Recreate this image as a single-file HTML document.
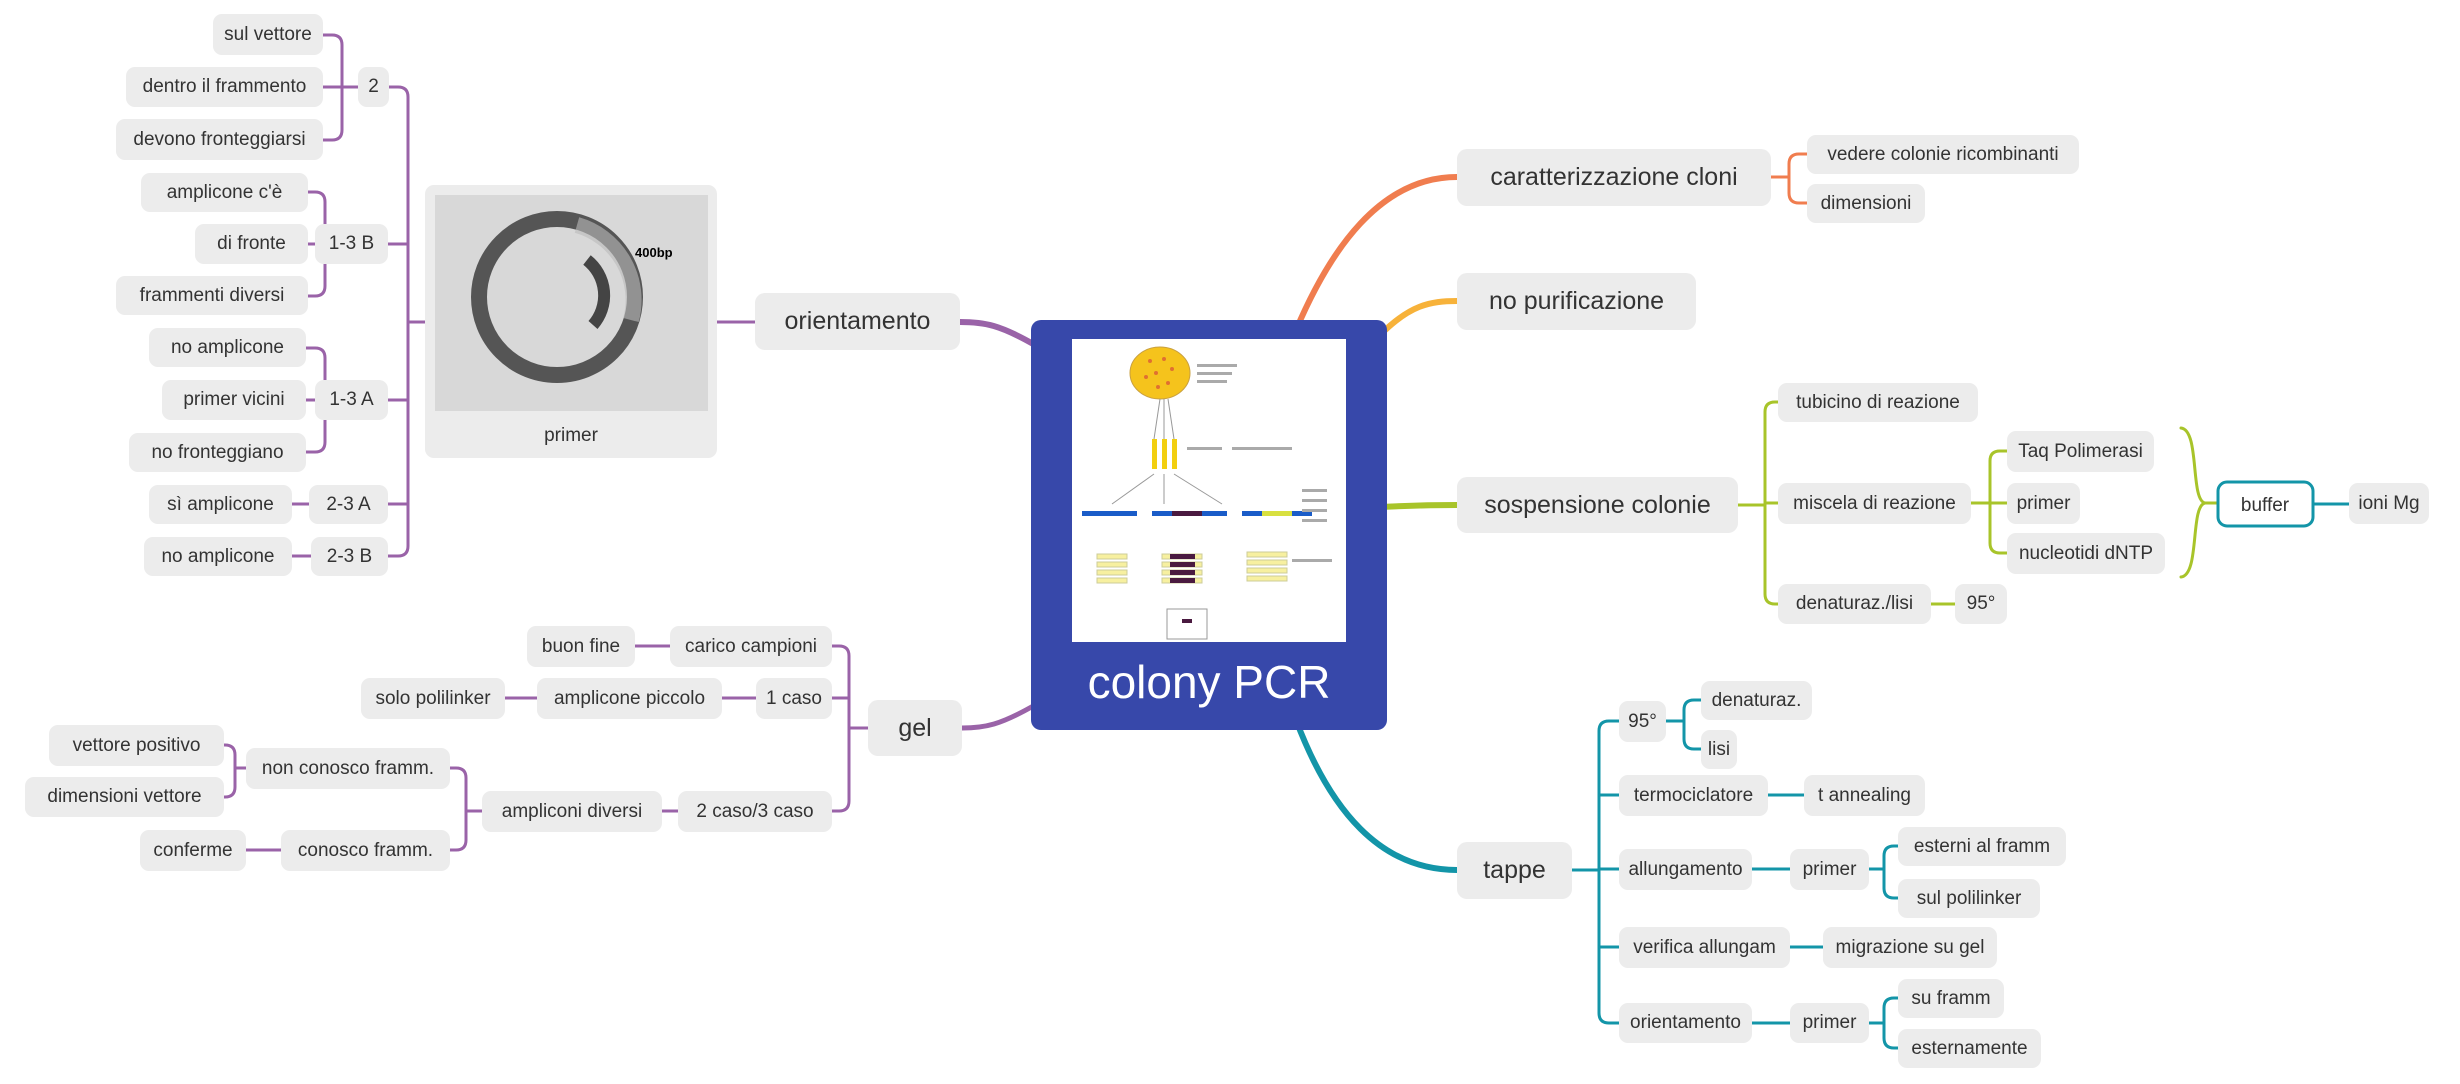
<!DOCTYPE html>
<html><head><meta charset="utf-8">
<style>
html,body{margin:0;padding:0;background:#fff;}
#c{position:relative;width:2460px;height:1084px;overflow:hidden;font-family:"Liberation Sans",sans-serif;}
.n{position:absolute;background:#ececec;border-radius:9px;color:#333;font-size:19px;display:flex;align-items:center;justify-content:center;white-space:nowrap;box-sizing:border-box;}
.m{font-size:25px;border-radius:10px;}
svg{position:absolute;left:0;top:0;}
</style></head><body>
<div id="c">
<svg id="s" width="2460" height="1084" viewBox="0 0 2460 1084"></svg>
<div id="nodes"></div>
<!-- central -->
<div style="position:absolute;left:1031px;top:320px;width:356px;height:410px;background:#3748aa;border-radius:10px;"></div>
<div style="position:absolute;left:1072px;top:339px;width:274px;height:303px;background:#fff;overflow:hidden;">
<svg width="274" height="303" viewBox="0 0 274 303">
<ellipse cx="88" cy="34" rx="30" ry="26" fill="#f5c31c" stroke="#c9a040"/>
<g fill="#e07030"><circle cx="78" cy="22" r="2"/><circle cx="92" cy="20" r="2"/><circle cx="100" cy="30" r="2"/><circle cx="84" cy="34" r="2"/><circle cx="96" cy="44" r="2"/><circle cx="74" cy="38" r="2"/><circle cx="86" cy="48" r="2"/></g>
<rect x="80" y="100" width="5" height="30" fill="#f2cf10"/><rect x="90" y="100" width="5" height="30" fill="#f2cf10"/><rect x="100" y="100" width="5" height="30" fill="#f2cf10"/>
<g stroke="#999" stroke-width="1"><line x1="88" y1="60" x2="82" y2="100"/><line x1="92" y1="60" x2="92" y2="100"/><line x1="96" y1="60" x2="102" y2="100"/><line x1="82" y1="135" x2="40" y2="165"/><line x1="92" y1="135" x2="92" y2="165"/><line x1="102" y1="135" x2="150" y2="165"/></g>
<rect x="10" y="172" width="55" height="5" fill="#1a5cc8"/><rect x="80" y="172" width="75" height="5" fill="#1a5cc8"/><rect x="100" y="172" width="30" height="5" fill="#4a1a40"/><rect x="170" y="172" width="70" height="5" fill="#1a5cc8"/><rect x="190" y="172" width="30" height="5" fill="#d8e040"/>
<g fill="#f7f0a0" stroke="#cc9"><rect x="25" y="215" width="30" height="5"/><rect x="25" y="223" width="30" height="5"/><rect x="25" y="231" width="30" height="5"/><rect x="25" y="239" width="30" height="5"/><rect x="90" y="215" width="40" height="5"/><rect x="90" y="223" width="40" height="5"/><rect x="90" y="231" width="40" height="5"/><rect x="90" y="239" width="40" height="5"/><rect x="175" y="213" width="40" height="5"/><rect x="175" y="221" width="40" height="5"/><rect x="175" y="229" width="40" height="5"/><rect x="175" y="237" width="40" height="5"/></g>
<g fill="#4a1a40"><rect x="98" y="215" width="25" height="5"/><rect x="98" y="223" width="25" height="5"/><rect x="98" y="231" width="25" height="5"/><rect x="98" y="239" width="25" height="5"/></g>
<rect x="95" y="270" width="40" height="30" fill="#fff" stroke="#999"/><rect x="110" y="280" width="10" height="4" fill="#4a1a40"/>
<g fill="#aaa"><rect x="125" y="25" width="40" height="3"/><rect x="125" y="33" width="35" height="3"/><rect x="125" y="41" width="30" height="3"/><rect x="115" y="108" width="35" height="3"/><rect x="160" y="108" width="60" height="3"/><rect x="230" y="150" width="25" height="3"/><rect x="230" y="160" width="25" height="3"/><rect x="230" y="170" width="25" height="3"/><rect x="230" y="180" width="25" height="3"/><rect x="220" y="220" width="40" height="3"/></g>
</svg></div>
<div style="position:absolute;left:1031px;top:655px;width:356px;text-align:center;color:#fff;font-size:46px;">colony PCR</div>
<!-- plasmid node -->
<div style="position:absolute;left:425px;top:185px;width:292px;height:273px;background:#ececec;border-radius:9px;"></div>
<div style="position:absolute;left:435px;top:195px;width:273px;height:216px;background:#d8d8d8;">
<svg width="273" height="216"><circle cx="122" cy="102" r="78" fill="none" stroke="#555" stroke-width="16"/><path d="M142 30 A78 78 0 0 1 196 125" fill="none" stroke="#bbb" stroke-width="16" opacity=".6"/><path d="M152 65 A45 45 0 0 1 158 130" fill="none" stroke="#444" stroke-width="12"/><text x="200" y="62" font-size="13" font-weight="bold" font-family="Liberation Sans">400bp</text></svg></div>
<div style="position:absolute;left:425px;top:425px;width:292px;text-align:center;color:#333;font-size:19px;">primer</div>
</div>
<script>
const N=[
["caratterizzazione cloni",1457,149,314,57,1],["vedere colonie ricombinanti",1807,135,272,39],["dimensioni",1807,184,118,39],
["no purificazione",1457,273,239,57,1],["sospensione colonie",1457,477,281,56,1],
["tubicino di reazione",1778,383,200,39],["miscela di reazione",1778,483,193,41],["denaturaz./lisi",1778,584,153,40],["95°",1955,584,52,40],
["Taq Polimerasi",2007,431,147,41],["primer",2007,483,73,41],["nucleotidi dNTP",2007,533,158,41],["ioni Mg",2349,483,80,41],
["tappe",1457,842,115,57,1],["95°",1619,701,47,41],["denaturaz.",1701,681,111,39],["lisi",1701,730,36,39],
["termociclatore",1619,775,149,41],["t annealing",1804,775,121,41],["allungamento",1619,849,133,41],["primer",1790,849,79,41],
["esterni al framm",1898,827,168,39],["sul polilinker",1898,879,142,39],["verifica allungam",1619,927,171,41],["migrazione su gel",1823,927,174,41],
["orientamento",1619,1003,133,40],["primer",1790,1003,79,40],["su framm",1898,979,106,39],["esternamente",1898,1029,143,39],
["orientamento",755,293,205,57,1],["2",358,67,31,40],["sul vettore",213,14,110,41],["dentro il frammento",126,67,197,40],["devono fronteggiarsi",116,119,207,41],
["1-3 B",315,224,73,40],["amplicone c'è",141,173,167,39],["di fronte",195,224,113,40],["frammenti diversi",116,276,192,39],
["1-3 A",315,380,73,40],["no amplicone",149,328,157,39],["primer vicini",162,380,144,40],["no fronteggiano",129,433,177,39],
["2-3 A",309,485,79,39],["sì amplicone",149,485,143,39],["2-3 B",311,537,77,39],["no amplicone",144,537,148,39],
["gel",868,700,94,56,1],["carico campioni",670,626,162,41],["buon fine",527,626,108,41],["1 caso",756,678,76,41],["amplicone piccolo",537,678,185,41],["solo polilinker",361,678,144,41],
["2 caso/3 caso",678,791,154,41],["ampliconi diversi",482,791,180,41],["non conosco framm.",246,748,204,41],["conosco framm.",281,830,169,41],
["vettore positivo",49,725,175,41],["dimensioni vettore",25,777,199,40],["conferme",140,830,106,41]];
let h="";for(const[t,x,y,w,hh,m]of N)h+=`<div class="n${m?' m':''}" style="left:${x}px;top:${y}px;width:${w}px;height:${hh}px">${t}</div>`;
document.getElementById('nodes').innerHTML=h;
let p="";
function L(c,d,w){p+=`<path d="${d}" stroke="${c}" stroke-width="${w||3}" fill="none" stroke-linecap="round"/>`;}
function B(c,px,py,vx,cx,ys){L(c,`M${px} ${py}H${vx}`);const a=Math.min(...ys),b=Math.max(...ys),r=10,dir=cx>vx?1:-1;
 L(c,`M${cx} ${a}H${vx+dir*r}Q${vx} ${a} ${vx} ${a+r}V${b-r}Q${vx} ${b} ${vx+dir*r} ${b}H${cx}`);
 for(const y of ys)if(y!=a&&y!=b)L(c,`M${vx} ${y}H${cx}`);}
const O="#f07d4f",Y="#f7b23a",G="#a8c42a",T="#1395a8",P="#9a63a8";
L(O,"M1296 330 C1330 250 1380 177 1457 177",6);
L(Y,"M1380 335 C1410 305 1430 301 1457 301",6);
L(G,"M1380 507 C1420 505 1440 505 1457 505",6);
L(T,"M1296 720 C1330 810 1380 870 1457 870",6);
L(P,"M1035 345 C1000 325 985 322 960 322",6);
L(P,"M1035 705 C1000 725 985 728 962 728",5);
B(O,1771,177,1789,1807,[154,203]);
B(G,1738,505,1765,1778,[402,503,604]);
B(G,1971,503,1990,2007,[451,503,553]);
L(G,"M1931 604H1955");
L(G,"M2181 428C2200 430 2190 500 2205 503C2190 506 2200 575 2181 577");L(G,"M2205 503H2218");
L(T,"M2313 504H2349");
B(T,1572,870,1599,1619,[721,795,869,947,1023]);
B(T,1666,721,1684,1701,[700,749]);
L(T,"M1768 795H1804");L(T,"M1752 869H1790");L(T,"M1790 947H1823");L(T,"M1752 1023H1790");
B(T,1869,869,1884,1898,[846,898]);B(T,1869,1023,1884,1898,[998,1048]);
L(P,"M755 322H717");
B(P,425,322,408,388,[87,244,400,504,556]);
B(P,358,87,342,323,[35,87,140]);
B(P,315,244,325,308,[192,244,296]);
B(P,315,400,325,306,[348,400,452]);
L(P,"M309 504H292");L(P,"M311 556H292");
B(P,868,728,849,832,[646,698,811]);
L(P,"M670 646H635");L(P,"M756 698H722");L(P,"M537 698H505");L(P,"M678 811H662");
B(P,482,811,466,450,[768,850]);
B(P,246,768,235,224,[745,797]);
L(P,"M281 850H246");
document.getElementById('s').innerHTML=p+`<rect x="2218" y="482" width="95" height="44" rx="9" fill="#fff" stroke="${T}" stroke-width="3"/><text x="2265" y="511" text-anchor="middle" font-size="19" fill="#333" font-family="Liberation Sans">buffer</text>`;
</script>
</body></html>
